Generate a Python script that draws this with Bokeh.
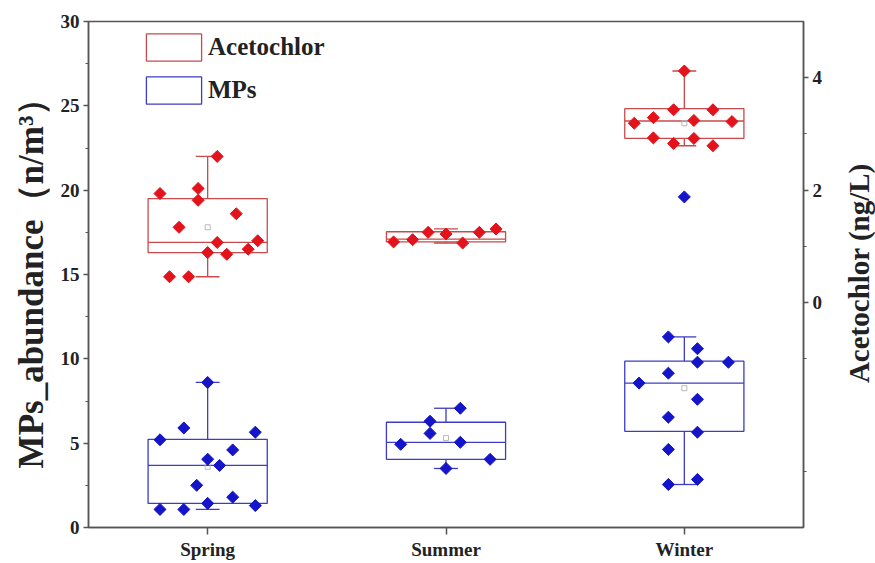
import numpy as np
from bokeh.plotting import figure
from bokeh.layouts import row
from bokeh.models import Range1d, LinearAxis, FixedTicker, Legend, LegendItem, Label
from bokeh.embed import file_html
from bokeh.resources import INLINE

# ---------------- data ----------------
seasons = ["Spring", "Summer", "Winter"]

# MPs abundance (n/m3), left axis
mps_spring = [8.6, 5.9, 5.2, 5.65, 4.6, 4.05, 3.68, 2.5, 1.8, 1.43, 1.3, 1.07, 1.07]
mps_spring_dx = [0.0, -0.1, -0.2, 0.2, 0.105, 0.0, 0.05, -0.046, 0.105, 0.0, 0.2, -0.2, -0.1]
mps_summer = [7.07, 6.3, 5.58, 4.93, 5.05, 4.04, 3.5]
mps_summer_dx = [0.06, -0.067, -0.067, -0.19, 0.06, 0.185, 0.0]
mps_winter = [11.3, 10.6, 9.8, 9.8, 9.15, 8.56, 7.6, 6.54, 5.65, 4.63, 2.85, 2.55, 19.6]
mps_winter_dx = [-0.067, 0.055, 0.055, 0.185, -0.067, -0.19, 0.055, -0.067, 0.055, -0.067, 0.055, -0.067, 0.0]

mps_q1 = [1.43, 4.04, 5.70]
mps_median = [3.68, 5.05, 8.56]
mps_q3 = [5.23, 6.24, 9.86]
mps_low = [1.07, 3.5, 2.55]
mps_high = [8.6, 7.07, 11.3]
mps_mean = [3.6, 5.3, 8.26]

# Acetochlor (ng/L), right axis
ace_spring = [2.60, 1.94, 2.03, 1.82, 1.58, 1.34, 1.07, 1.10, 0.89, 0.86, 0.95, 0.46, 0.46]
ace_spring_dx = [0.04, -0.2, -0.04, -0.04, 0.12, -0.12, 0.04, 0.21, 0.0, 0.08, 0.17, -0.16, -0.08]
ace_summer = [1.08, 1.12, 1.25, 1.22, 1.06, 1.25, 1.31]
ace_summer_dx = [-0.22, -0.14, -0.075, 0.0, 0.07, 0.14, 0.21]
ace_winter = [4.12, 3.43, 3.43, 3.29, 3.19, 3.24, 3.22, 2.93, 2.83, 2.92, 2.79]
ace_winter_dx = [0.0, -0.045, 0.12, -0.13, -0.21, 0.04, 0.2, -0.13, -0.045, 0.04, 0.12]

ace_q1 = [0.89, 1.08, 2.92]
ace_median = [1.07, 1.13, 3.23]
ace_q3 = [1.85, 1.26, 3.45]
ace_low = [0.46, 1.06, 2.79]
ace_high = [2.60, 1.31, 4.12]
ace_mean = [1.34, 1.18, 3.19]

left_ticks = [0, 5, 10, 15, 20, 25, 30]
right_ticks = [0, 2, 4]

left_title = "MPs_abundance（n/m³）"
right_title = "Acetochlor (ng/L)"

# ---------------- style ----------------
FONT = "Liberation Serif"
AX = "#555555"
RED_BOX = "#C84A4A"
RED_PT = "#E3121B"
BLUE_BOX = "#3C3CC4"
BLUE_PT = "#1414C8"

pos = [i + 1 for i in range(len(seasons))]

p = figure(width=825, height=563, output_backend="svg", toolbar_location=None,
           x_range=Range1d(0.5, 3.5), y_range=Range1d(0, 30),
           min_border_left=88, min_border_right=22, min_border_top=21, min_border_bottom=36)
p.extra_y_ranges = {"ace": Range1d(-4, 5)}
p.xgrid.visible = False
p.ygrid.visible = False
p.outline_line_color = AX
p.outline_line_width = 1.5
p.background_fill_color = "white"
p.border_fill_color = "white"

# axes
xa = p.xaxis[0]
xa.ticker = FixedTicker(ticks=pos)
xa.major_label_overrides = {pp: s for pp, s in zip(pos, seasons)}
xa.major_tick_out = 7
xa.major_tick_in = 0
xa.major_label_standoff = 4

ya = p.yaxis[0]
ya.ticker = FixedTicker(ticks=left_ticks,
                        minor_ticks=[t + 2.5 for t in left_ticks[:-1]])
ya.axis_label = left_title
ya.major_tick_out = 5
ya.major_tick_in = 0
ya.minor_tick_out = 3
ya.minor_tick_in = 0
ya.major_label_standoff = 4
ya.axis_label_standoff = 7

ra = LinearAxis(y_range_name="ace", ticker=FixedTicker(ticks=right_ticks, minor_ticks=[-3, -1, 1, 3]))
ra.major_tick_out = 5
ra.major_tick_in = 0
ra.minor_tick_out = 3
ra.minor_tick_in = 0
ra.major_label_standoff = 4
p.add_layout(ra, "right")

for ax in [xa, ya, ra]:
    ax.axis_line_color = AX
    ax.axis_line_width = 1.5
    ax.major_tick_line_color = AX
    ax.major_tick_line_width = 1.5
    ax.minor_tick_line_color = AX if ax is not xa else None
    ax.major_label_text_font = FONT
    ax.major_label_text_font_style = "bold"
    ax.major_label_text_font_size = "19px"
    ax.major_label_text_color = "#222222"
    ax.axis_label_text_font = FONT
    ax.axis_label_text_font_style = "bold"
    ax.axis_label_text_color = "#222222"
ya.axis_label_text_font_size = "35px"


def draw_series(vals_list, dx_list, q1, med, q3, low, high, mean, box_col, pt_col, rng):
    kw = {} if rng is None else {"y_range_name": rng}
    box = p.vbar(x=pos, width=0.5, bottom=q1, top=q3, fill_color=None,
                 line_color=box_col, line_width=1.3, **kw)
    p.segment(x0=[x - 0.25 for x in pos], x1=[x + 0.25 for x in pos], y0=med, y1=med,
              line_color=box_col, line_width=1.3, **kw)
    p.segment(x0=pos, x1=pos, y0=q3, y1=high, line_color=box_col, line_width=1.3, **kw)
    p.segment(x0=pos, x1=pos, y0=q1, y1=low, line_color=box_col, line_width=1.3, **kw)
    p.segment(x0=[x - 0.05 for x in pos], x1=[x + 0.05 for x in pos], y0=high, y1=high,
              line_color=box_col, line_width=1.3, **kw)
    p.segment(x0=[x - 0.05 for x in pos], x1=[x + 0.05 for x in pos], y0=low, y1=low,
              line_color=box_col, line_width=1.3, **kw)
    p.scatter(x=pos, y=mean, marker="square", size=5, fill_color=None,
              line_color="#b8b8b8", **kw)
    for xc, vals, dxs in zip(pos, vals_list, dx_list):
        p.scatter(x=[xc + d for d in dxs], y=vals, marker="square", angle=np.pi / 4,
                  size=8.5, fill_color=pt_col, line_color=pt_col, **kw)
    return box


red_box = draw_series([ace_spring, ace_summer, ace_winter],
                      [ace_spring_dx, ace_summer_dx, ace_winter_dx],
                      ace_q1, ace_median, ace_q3, ace_low, ace_high, ace_mean,
                      RED_BOX, RED_PT, "ace")
blue_box = draw_series([mps_spring, mps_summer, mps_winter],
                       [mps_spring_dx, mps_summer_dx, mps_winter_dx],
                       mps_q1, mps_median, mps_q3, mps_low, mps_high, mps_mean,
                       BLUE_BOX, BLUE_PT, None)

legend = Legend(items=[LegendItem(label="Acetochlor", renderers=[red_box]),
                       LegendItem(label="MPs", renderers=[blue_box])],
                location=(51, 420), glyph_width=69, glyph_height=34, spacing=9,
                padding=0, margin=0, label_standoff=0,
                label_text_font=FONT, label_text_font_style="bold",
                label_text_font_size="25px", label_text_color="#222222",
                background_fill_alpha=0, border_line_alpha=0)
p.add_layout(legend)

# right-hand axis title in a narrow companion panel (reads bottom-to-top)
p2 = figure(width=50, height=563, output_backend="svg", toolbar_location=None,
            x_range=Range1d(0, 50), y_range=Range1d(0, 563),
            x_axis_location=None, y_axis_location=None, min_border=0)
p2.xgrid.visible = False
p2.ygrid.visible = False
p2.outline_line_color = None
p2.background_fill_color = "white"
p2.border_fill_color = "white"
p2.add_layout(Label(x=33, y=283, text=right_title, angle=np.pi / 2,
                    text_align="center", text_baseline="middle", text_font=FONT,
                    text_font_style="bold", text_font_size="29px", text_color="#222222"))

open("out.html", "w").write(file_html(row(p, p2, spacing=0), INLINE))
